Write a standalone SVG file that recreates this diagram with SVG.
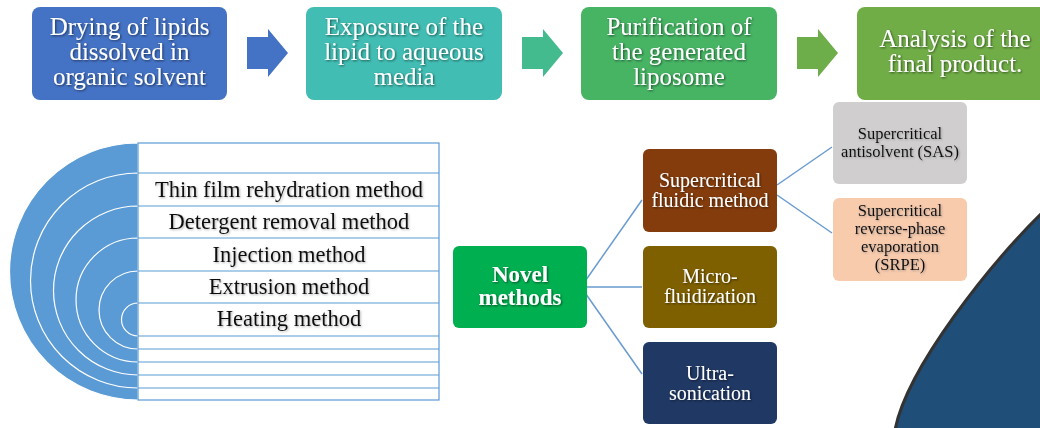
<svg xmlns="http://www.w3.org/2000/svg" width="1040" height="428" viewBox="0 0 1040 428">
<defs>
<filter id="shw" x="-10%" y="-20%" width="120%" height="140%">
<feDropShadow dx="1" dy="1" stdDeviation="0.8" flood-color="#000" flood-opacity="0.55"/>
</filter>
<filter id="shb" x="-10%" y="-20%" width="120%" height="140%">
<feDropShadow dx="1" dy="1" stdDeviation="0.8" flood-color="#555" flood-opacity="0.45"/>
</filter>
</defs>
<style>
text{font-family:"Liberation Serif","Times New Roman",serif;text-anchor:middle}
.tw{fill:#fff;filter:url(#shw)}
.tb{fill:#111;filter:url(#shb)}
.t25{font-size:25px}
.t20{font-size:20px}
.t17{font-size:16.5px}
.t22{font-size:22.5px}
.bold{font-weight:bold;font-size:23px}
.row{fill:#fff;stroke:#5B9BD5;stroke-width:1.2}
.arc{fill:#5B9BD5;stroke:#fff;stroke-width:1.2}
.con{fill:none;stroke:#6A9BD0;stroke-width:1.5}
</style>

<g id="blob">
<path d="M1042,213 C992,262 907,367 895,430 L1042,430 Z" fill="#1F4E79" stroke="#333" stroke-width="3"/>
</g>

<g id="step1">
<rect x="32" y="7" width="195" height="93" rx="8" fill="#4472C4"/>
<text class="tw t25" x="129.5" y="35">Drying of lipids</text>
<text class="tw t25" x="129.5" y="60">dissolved in</text>
<text class="tw t25" x="129.5" y="85">organic solvent</text>
</g>
<g id="arrow1"><polygon points="247,37 268,37 268,29 288,53 268,77 268,69 247,69" fill="#4472C4"/></g>

<g id="step2">
<rect x="306" y="7" width="196" height="93" rx="8" fill="#41BDB3"/>
<text class="tw t25" x="404" y="35">Exposure of the</text>
<text class="tw t25" x="404" y="60">lipid to aqueous</text>
<text class="tw t25" x="404" y="85">media</text>
</g>
<g id="arrow2"><polygon points="522,37 543,37 543,29 563,53 543,77 543,69 522,69" fill="#44BB8E"/></g>

<g id="step3">
<rect x="581" y="7" width="196" height="93" rx="8" fill="#47B464"/>
<text class="tw t25" x="679" y="35">Purification of</text>
<text class="tw t25" x="679" y="60">the generated</text>
<text class="tw t25" x="679" y="85">liposome</text>
</g>
<g id="arrow3"><polygon points="797,37 818,37 818,29 838,53 818,77 818,69 797,69" fill="#6DAE4B"/></g>

<g id="step4">
<rect x="857" y="7" width="196" height="93" rx="8" fill="#70AD47"/>
<text class="tw t25" x="955" y="47">Analysis of the</text>
<text class="tw t25" x="955" y="72">final product.</text>
</g>

<g id="arcs">
<path class="arc" d="M138,143 A128.5,128.5 0 0 0 138,400 Z"/>
<path class="arc" d="M138,173 A107.5,107.5 0 0 0 138,388 Z"/>
<path class="arc" d="M138,206 A84.5,84.5 0 0 0 138,375 Z"/>
<path class="arc" d="M138,238 A62,62 0 0 0 138,362 Z"/>
<path class="arc" d="M138,271 A39,39 0 0 0 138,349 Z"/>
<path class="arc" d="M138,303 A16.5,16.5 0 0 0 138,336 Z"/>
</g>

<g id="list">
<rect class="row" x="138" y="143" width="301" height="257"/>
<g stroke="#5B9BD5" stroke-width="1.2">
<line x1="138" y1="173" x2="439" y2="173"/>
<line x1="138" y1="206" x2="439" y2="206"/>
<line x1="138" y1="238" x2="439" y2="238"/>
<line x1="138" y1="271" x2="439" y2="271"/>
<line x1="138" y1="303" x2="439" y2="303"/>
<line x1="138" y1="336" x2="439" y2="336"/>
<line x1="138" y1="349" x2="439" y2="349"/>
<line x1="138" y1="362" x2="439" y2="362"/>
<line x1="138" y1="375" x2="439" y2="375"/>
<line x1="138" y1="388" x2="439" y2="388"/>
</g>
<text class="tb t22" x="289" y="197">Thin film rehydration method</text>
<text class="tb t22" x="289" y="229">Detergent removal method</text>
<text class="tb t22" x="289" y="262">Injection method</text>
<text class="tb t22" x="289" y="294">Extrusion method</text>
<text class="tb t22" x="289" y="326">Heating method</text>
</g>

<g id="connectors">
<path class="con" d="M581,287 L642,200"/>
<path class="con" d="M581,287 L642,287"/>
<path class="con" d="M581,287 L642,374"/>
<path class="con" d="M777,185 L832,147"/>
<path class="con" d="M777,195 L832,233"/>
</g>

<g id="novel">
<rect x="453" y="246" width="134" height="82" rx="6" fill="#00B050"/>
<text class="tw bold" x="520" y="282">Novel</text>
<text class="tw bold" x="520" y="305">methods</text>
</g>

<g id="scf">
<rect x="643" y="149" width="134" height="83" rx="6" fill="#843C0C"/>
<text class="tw t20" x="710" y="187">Supercritical</text>
<text class="tw t20" x="710" y="207">fluidic method</text>
</g>
<g id="micro">
<rect x="643" y="246" width="134" height="82" rx="6" fill="#7F6000"/>
<text class="tw t20" x="710" y="283">Micro-</text>
<text class="tw t20" x="710" y="303">fluidization</text>
</g>
<g id="ultra">
<rect x="643" y="342" width="134" height="82" rx="6" fill="#203864"/>
<text class="tw t20" x="710" y="380">Ultra-</text>
<text class="tw t20" x="710" y="400">sonication</text>
</g>

<g id="sas">
<rect x="833" y="102" width="134" height="82" rx="6" fill="#D0CECE"/>
<text class="tb t17" x="900" y="139">Supercritical</text>
<text class="tb t17" x="900" y="157">antisolvent (SAS)</text>
</g>
<g id="srpe">
<rect x="833" y="198" width="134" height="83" rx="6" fill="#F8CBAD"/>
<text class="tb t17" x="900" y="216">Supercritical</text>
<text class="tb t17" x="900" y="234">reverse-phase</text>
<text class="tb t17" x="900" y="252">evaporation</text>
<text class="tb t17" x="900" y="270">(SRPE)</text>
</g>
</svg>
